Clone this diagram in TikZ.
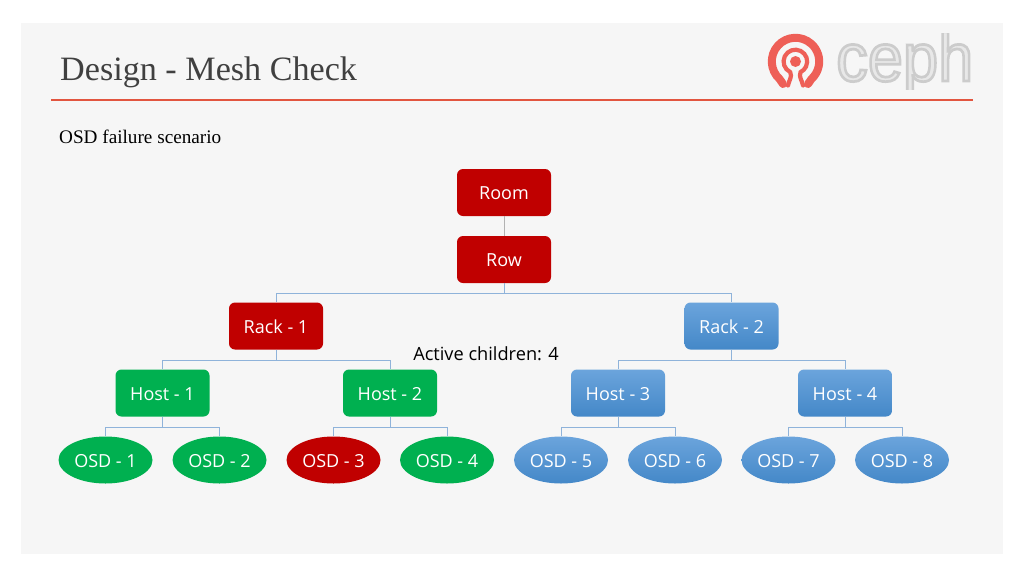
\documentclass[tikz,border=0pt]{standalone}
\usepackage{fontspec}
\setmainfont{Open Sans}
\newfontfamily\serifface{Liberation Serif}
\newfontfamily\logoface[FakeBold=4]{Liberation Sans}
\definecolor{pagebg}{HTML}{F6F6F6}
\definecolor{redbox}{HTML}{C00000}
\definecolor{greenbox}{HTML}{00B050}
\definecolor{bluetop}{HTML}{6BA4DC}
\definecolor{bluebot}{HTML}{4488C8}
\definecolor{conn}{HTML}{8FB3DA}
\definecolor{rulecol}{HTML}{E2553F}
\definecolor{logored}{HTML}{EE5F57}
\definecolor{titlecol}{HTML}{404040}
\tikzset{
  x=1pt,y=1pt,
  label font/.style={font=\fontsize{18}{20}\selectfont,text=white,inner sep=0pt,align=center,text height=14.4pt,text depth=0pt},
  boxshape/.style={label font,rectangle,rounded corners=6pt,minimum width=94pt,minimum height=47pt},
  ovalshape/.style={label font,ellipse,minimum width=94pt,minimum height=47pt},
  redfill/.style={fill=redbox},
  greenfill/.style={fill=greenbox},
  bluefill/.style={top color=bluetop,bottom color=bluebot},
  link/.style={draw=conn,line width=0.9pt,to path={(\tikztostart) -- ++(0,-10.5) -| (\tikztotarget)}},
}
\usetikzlibrary{shapes.geometric}
\begin{document}
\begin{tikzpicture}
\useasboundingbox (0,0) rectangle (1024,-576);
\fill[white] (0,0) rectangle (1024,-576);
\fill[pagebg] (21,-23) rectangle (1003,-554);
\node[anchor=base west,inner sep=0pt,font=\serifface\fontsize{34.15}{40}\selectfont,text=titlecol] (title) at (60,-80) {Design - Mesh Check};
\coordinate (ruleL) at (51,-100);
\coordinate (ruleR) at (973,-100);
\draw[rulecol,line width=2.4pt] (ruleL) -- (ruleR);
\node[anchor=base west,inner sep=0pt,font=\serifface\fontsize{19.2}{22}\selectfont,text=black] (sub) at (59,-143) {OSD failure scenario};
% logo
\draw[logored,line width=8pt,line cap=round] (783,-84) .. controls (781.5,-82.5) and (780.5,-81) .. (779.64,-79.1) arc[start angle=-132,end angle=-408,radius=23.7] .. controls (810.5,-81) and (809.5,-82.5) .. (808,-84);
\draw[logored,line width=4.2pt,line cap=round] (788,-85.5) .. controls (789,-80) and (792.5,-77) .. (790.2,-72.1) arc[start angle=-116,end angle=-424,radius=11.8] .. controls (798.5,-77) and (802,-80) .. (803,-85.5);
\fill[logored] (795.5,-61.5) circle[radius=5.5];
\begin{scope}
\clip (830,-33) rectangle (980,-89.5);
\node[anchor=base west,inner sep=0pt,text=black] (logotext) at (836,-81) {\logoface\fontsize{68}{70}\selectfont\special{pdf:code 2 Tr 0.5 w 0.80 G 0.91 g}\scalebox{0.93}[1]{ceph}\special{pdf:code 0 Tr}};
\end{scope}
% tree
\node[boxshape,redfill] (room) at (504,-192.5) {Room};
\node[boxshape,redfill] (row) at (504,-259.5) {Row};
\node[boxshape,redfill] (rack1) at (276,-326) {Rack - 1};
\node[boxshape,bluefill] (rack2) at (731.5,-326) {Rack - 2};
\node[boxshape,greenfill] (host1) at (162.5,-393) {Host - 1};
\node[boxshape,greenfill] (host2) at (390,-393) {Host - 2};
\node[boxshape,bluefill] (host3) at (618,-393) {Host - 3};
\node[boxshape,bluefill] (host4) at (845,-393) {Host - 4};
\node[ovalshape,greenfill] (osd1) at (105.5,-460) {OSD - 1};
\node[ovalshape,greenfill] (osd2) at (219.5,-460) {OSD - 2};
\node[ovalshape,redfill] (osd3) at (333.5,-460) {OSD - 3};
\node[ovalshape,greenfill] (osd4) at (447,-460) {OSD - 4};
\node[ovalshape,bluefill] (osd5) at (561,-460) {OSD - 5};
\node[ovalshape,bluefill] (osd6) at (675,-460) {OSD - 6};
\node[ovalshape,bluefill] (osd7) at (788.5,-460) {OSD - 7};
\node[ovalshape,bluefill] (osd8) at (902,-460) {OSD - 8};
\node[inner sep=0pt,font=\fontsize{18.2}{20}\selectfont,text=black] (active) at (486,-353.5) {Active children: 4};
\draw[draw=black!30,line width=0.9pt] (room) -- (row);
\path (row.south) edge[link] (rack1.north) edge[link] (rack2.north);
\path (rack1.south) edge[link] (host1.north) edge[link] (host2.north);
\path (rack2.south) edge[link] (host3.north) edge[link] (host4.north);
\path (host1.south) edge[link] (osd1.north) edge[link] (osd2.north);
\path (host2.south) edge[link] (osd3.north) edge[link] (osd4.north);
\path (host3.south) edge[link] (osd5.north) edge[link] (osd6.north);
\path (host4.south) edge[link] (osd7.north) edge[link] (osd8.north);
\end{tikzpicture}
\end{document}
